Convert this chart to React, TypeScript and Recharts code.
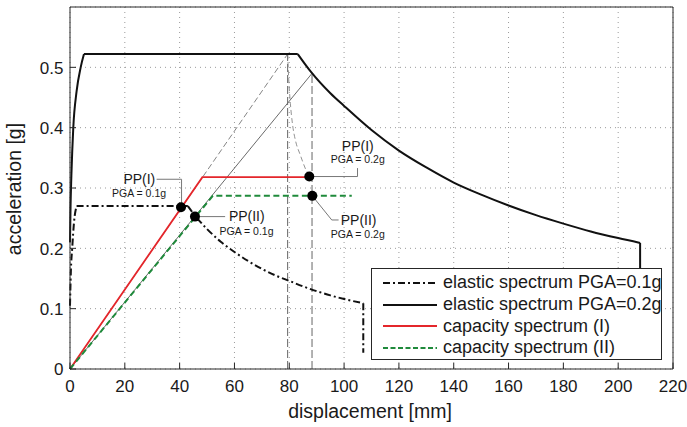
import React from "react";
import {
  ComposedChart, Line, XAxis, YAxis, CartesianGrid, ReferenceDot, ReferenceLine, Legend, Label,
} from "recharts";

// plot frame in page pixels (used by the hand-drawn inward ticks)
const PLOT = { left: 70, right: 673, top: 7, bottom: 369 };
const TICK = 6;

const xTicks = [0, 20, 40, 60, 80, 100, 120, 140, 160, 180, 200, 220];
const yTicks = [0, 0.1, 0.2, 0.3, 0.4, 0.5];

// elastic spectrum PGA=0.1g (ADRS, displacement mm / acceleration g), in pieces so corners stay sharp
const elastic01Rise = [
  { x: 0, y: 0.105 }, { x: 0.3, y: 0.16 }, { x: 0.8, y: 0.2 }, { x: 1.5, y: 0.245 }, { x: 2.4, y: 0.27 },
];
const elastic01Plateau = [{ x: 2.4, y: 0.27 }, { x: 43, y: 0.27 }];
const elastic01Decay = [
  { x: 43, y: 0.27 }, { x: 46, y: 0.252 }, { x: 50, y: 0.232 }, { x: 55, y: 0.211 },
  { x: 60, y: 0.194 }, { x: 65, y: 0.179 }, { x: 70, y: 0.166 }, { x: 75, y: 0.155 },
  { x: 80, y: 0.146 }, { x: 85, y: 0.137 }, { x: 90, y: 0.129 }, { x: 95, y: 0.122 },
  { x: 100, y: 0.116 }, { x: 107, y: 0.109 },
];
const elastic01Drop = [{ x: 107, y: 0.109 }, { x: 107, y: 0.027 }];

// elastic spectrum PGA=0.2g
const elastic02Rise = [
  { x: 0, y: 0.21 }, { x: 0.2, y: 0.27 }, { x: 0.5, y: 0.32 }, { x: 1.2, y: 0.4 },
  { x: 2.4, y: 0.46 }, { x: 3.9, y: 0.5 }, { x: 5.1, y: 0.522 },
];
const elastic02Plateau = [{ x: 5.1, y: 0.522 }, { x: 83.1, y: 0.522 }];
const elastic02Decay = [
  { x: 83.1, y: 0.522 }, { x: 88, y: 0.492 }, { x: 95, y: 0.457 }, { x: 100, y: 0.436 },
  { x: 110, y: 0.396 }, { x: 120, y: 0.362 }, { x: 130, y: 0.334 }, { x: 140, y: 0.309 },
  { x: 150, y: 0.289 }, { x: 160, y: 0.271 }, { x: 170, y: 0.255 }, { x: 180, y: 0.241 },
  { x: 190, y: 0.228 }, { x: 200, y: 0.217 }, { x: 208, y: 0.209 },
];
const elastic02Drop = [{ x: 208, y: 0.209 }, { x: 208, y: 0.12 }];

const capacity1 = [{ x: 0, y: 0 }, { x: 48.3, y: 0.318 }, { x: 87.3, y: 0.318 }];
const capacity2 = [{ x: 0, y: 0 }, { x: 52.1, y: 0.287 }, { x: 102.8, y: 0.287 }];

// construction lines
const radialA = [{ x: 0, y: 0 }, { x: 79.4, y: 0.522 }];
const radialB = [{ x: 0, y: 0 }, { x: 88.3, y: 0.49 }];
const verticalA = [{ x: 79.4, y: 0 }, { x: 79.4, y: 0.522 }];
const verticalB = [{ x: 88.3, y: 0 }, { x: 88.3, y: 0.49 }];
const demandCurve = [
  { x: 79.4, y: 0.522 }, { x: 79.8, y: 0.48 }, { x: 80.4, y: 0.44 }, { x: 81.2, y: 0.405 },
  { x: 82.3, y: 0.378 }, { x: 84, y: 0.355 }, { x: 85.8, y: 0.333 }, { x: 87.3, y: 0.319 },
];

// performance points
const perfPoints = [
  { x: 40.5, y: 0.268 },
  { x: 45.6, y: 0.2526 },
  { x: 87.3, y: 0.319 },
  { x: 88.4, y: 0.287 },
];

const ppTitles = ["PP(I)", "PP(II)", "PP(I)", "PP(II)"];
const ppSubs = ["PGA = 0.1g", "PGA = 0.1g", "PGA = 0.2g", "PGA = 0.2g"];

// where each annotation sits (data coords) and its leader path
const ppLayout = [
  { title: { x: 25.3, y: 0.3145 }, sub: { x: 25.2, y: 0.291 }, leader: [{ x: 31.6, y: 0.3145 }, { x: 40.7, y: 0.3145 }, { x: 40.7, y: 0.268 }] },
  { title: { x: 64.5, y: 0.254 }, sub: { x: 64.4, y: 0.228 }, leader: [{ x: 45.6, y: 0.2526 }, { x: 56.6, y: 0.2526 }] },
  { title: { x: 105, y: 0.369 }, sub: { x: 105, y: 0.348 }, leader: [{ x: 87.3, y: 0.319 }, { x: 104.9, y: 0.319 }, { x: 104.9, y: 0.333 }] },
  { title: { x: 105.3, y: 0.247 }, sub: { x: 105, y: 0.224 }, leader: [{ x: 88.4, y: 0.287 }, { x: 95.5, y: 0.247 }, { x: 98, y: 0.247 }] },
];

const legendItems = [
  { label: "elastic spectrum PGA=0.1g", color: "#111", dash: "7 3 2 3" },
  { label: "elastic spectrum PGA=0.2g", color: "#111", dash: undefined },
  { label: "capacity spectrum (I)", color: "#e4262b", dash: undefined },
  { label: "capacity spectrum (II)", color: "#1f8a3b", dash: "5 2.5" },
];

const AXIS = "#262626";
const TEXT = "#1a1a1a";

function fmtY(v: number) {
  return v === 0 ? "0" : v.toFixed(1);
}

// eslint-disable-next-line @typescript-eslint/no-explicit-any
const BottomTick = (p: any) => (
  <g>
    <line x1={p.x} x2={p.x} y1={PLOT.bottom} y2={PLOT.bottom - TICK} stroke={AXIS} />
    <text x={p.x} y={391.5} textAnchor="middle" fontSize={17} fill={TEXT}>{p.payload.value}</text>
  </g>
);
// eslint-disable-next-line @typescript-eslint/no-explicit-any
const TopTick = (p: any) => (
  <line x1={p.x} x2={p.x} y1={PLOT.top} y2={PLOT.top + TICK} stroke={AXIS} />
);
// eslint-disable-next-line @typescript-eslint/no-explicit-any
const LeftTick = (p: any) => (
  <g>
    <line x1={PLOT.left} x2={PLOT.left + TICK} y1={p.y} y2={p.y} stroke={AXIS} />
    <text x={63.5} y={p.y + 6.2} textAnchor="end" fontSize={17} fill={TEXT}>{fmtY(p.payload.value)}</text>
  </g>
);
// eslint-disable-next-line @typescript-eslint/no-explicit-any
const RightTick = (p: any) => (
  <line x1={PLOT.right} x2={PLOT.right - TICK} y1={p.y} y2={p.y} stroke={AXIS} />
);

function LegendBox() {
  return (
    <div
      style={{
        width: 291, height: 92, border: `1px solid ${AXIS}`, background: "#fff",
        boxSizing: "border-box", paddingTop: 3, fontSize: 18, color: TEXT,
      }}
    >
      {legendItems.map((it) => (
        <div key={it.label} style={{ height: 21.7, display: "flex", alignItems: "center", whiteSpace: "nowrap" }}>
          <svg width={65} height={10} style={{ marginLeft: 10, flex: "none" }}>
            <line x1={1} x2={55} y1={5} y2={5} stroke={it.color} strokeWidth={2} strokeDasharray={it.dash} />
          </svg>
          <span style={{ marginLeft: -4 }}>{it.label}</span>
        </div>
      ))}
    </div>
  );
}

const plain = { dot: false, activeDot: false, isAnimationActive: false } as const;
const DASHDOT = "7 3 2 3";

export default function App() {
  return (
    <div style={{ position: "absolute", left: 0, top: 0, width: 687, height: 427, background: "#fff", fontFamily: "'Liberation Sans', Arial, sans-serif" }}>
      <ComposedChart width={687} height={427} margin={{ top: 6, right: 13, bottom: 0, left: 10 }}>
        <CartesianGrid stroke="#9a9a9a" strokeDasharray="1 4" />
        <XAxis
          dataKey="x" type="number" domain={[0, 220]} ticks={xTicks} interval={0}
          height={58} axisLine={{ stroke: AXIS }} tickLine={false} tick={BottomTick}
        >
          <Label content={() => (
            <text x={370} y={418} textAnchor="middle" fontSize={19.5} fill={TEXT}>displacement [mm]</text>
          )} />
        </XAxis>
        <XAxis
          xAxisId="top" orientation="top" dataKey="x" type="number" domain={[0, 220]} ticks={xTicks}
          interval={0} height={1} axisLine={{ stroke: AXIS }} tickLine={false} tick={TopTick}
        />
        <YAxis
          type="number" domain={[0, 0.6]} ticks={yTicks} interval={0} width={60}
          axisLine={{ stroke: AXIS }} tickLine={false} tick={LeftTick}
        >
          <Label content={() => (
            <text transform="translate(21,189) rotate(-90)" textAnchor="middle" fontSize={19.5} fill={TEXT}>acceleration [g]</text>
          )} />
        </YAxis>
        <YAxis
          yAxisId="right" orientation="right" type="number" domain={[0, 0.6]} ticks={yTicks}
          interval={0} width={1} axisLine={{ stroke: AXIS }} tickLine={false} tick={RightTick}
        />

        <Line data={radialA} dataKey="y" stroke="#666" strokeWidth={0.8} strokeDasharray="6 3" {...plain} />
        <Line data={radialB} dataKey="y" stroke="#444" strokeWidth={0.8} {...plain} />
        <Line data={verticalA} dataKey="y" stroke="#666" strokeWidth={1} strokeDasharray="8 3" {...plain} />
        <Line data={verticalB} dataKey="y" stroke="#666" strokeWidth={1} strokeDasharray="8 3" {...plain} />
        <Line data={demandCurve} dataKey="y" type="monotone" stroke="#777" strokeWidth={0.8} strokeDasharray="5 3" {...plain} />

        <Line data={elastic01Rise} dataKey="y" type="monotone" stroke="#111" strokeWidth={2} strokeDasharray={DASHDOT} {...plain} />
        <Line data={elastic01Plateau} dataKey="y" stroke="#111" strokeWidth={2} strokeDasharray={DASHDOT} {...plain} />
        <Line data={elastic01Decay} dataKey="y" type="monotone" stroke="#111" strokeWidth={2} strokeDasharray={DASHDOT} {...plain} />
        <Line data={elastic01Drop} dataKey="y" stroke="#111" strokeWidth={2} strokeDasharray={DASHDOT} {...plain} />
        <Line data={elastic02Rise} dataKey="y" type="monotone" stroke="#111" strokeWidth={2} {...plain} />
        <Line data={elastic02Plateau} dataKey="y" stroke="#111" strokeWidth={2} {...plain} />
        <Line data={elastic02Decay} dataKey="y" type="monotone" stroke="#111" strokeWidth={2} {...plain} />
        <Line data={elastic02Drop} dataKey="y" stroke="#111" strokeWidth={2} {...plain} />
        <Line data={capacity1} dataKey="y" stroke="#e4262b" strokeWidth={1.8} {...plain} />
        <Line data={capacity2} dataKey="y" stroke="#1f8a3b" strokeWidth={2} strokeDasharray="6 3.5" {...plain} />

        {ppLayout.map((a, i) =>
          a.leader.slice(1).map((pt, j) => (
            <ReferenceLine
              key={`ld${i}-${j}`}
              segment={[a.leader[j], pt]}
              stroke="#777"
              strokeWidth={1}
              ifOverflow="visible"
            />
          ))
        )}
        {perfPoints.map((p, i) => (
          <ReferenceDot key={`pp${i}`} x={p.x} y={p.y} r={5} fill="#000" stroke="none" />
        ))}
        {ppLayout.map((a, i) => (
          <ReferenceDot
            key={`t${i}`} x={a.title.x} y={a.title.y} r={0} fill="none" stroke="none"
            label={{ value: ppTitles[i], position: "center", fontSize: 14, fill: TEXT }}
          />
        ))}
        {ppLayout.map((a, i) => (
          <ReferenceDot
            key={`s${i}`} x={a.sub.x} y={a.sub.y} r={0} fill="none" stroke="none"
            label={{ value: ppSubs[i], position: "center", fontSize: 10.5, fill: TEXT }}
          />
        ))}

        <Legend
          layout="vertical" align="center" verticalAlign="middle"
          wrapperStyle={{ left: 371, top: 268, width: 291, height: 92 }}
          content={() => <LegendBox />}
        />
      </ComposedChart>
    </div>
  );
}
